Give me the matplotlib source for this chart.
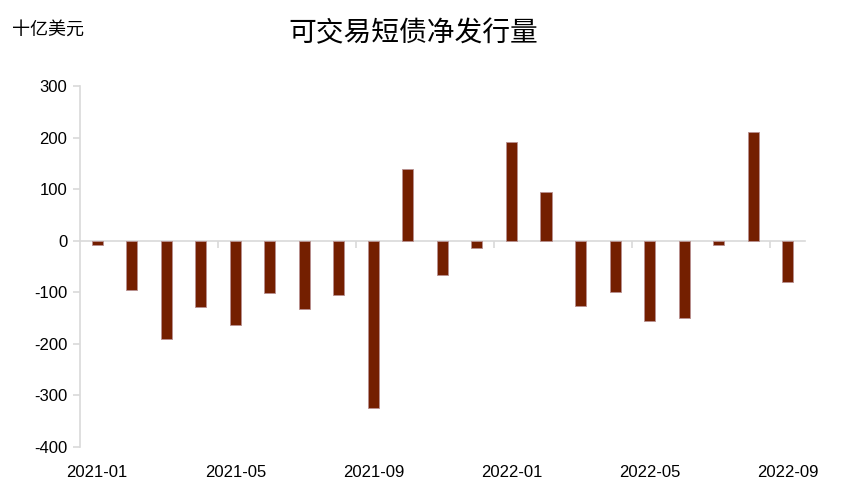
import matplotlib.pyplot as plt

plt.rcParams['font.family'] = ['Noto Sans CJK SC', 'DejaVu Sans']

# monthly net issuance of marketable bills, billion USD
months = ['2021-01', '2021-02', '2021-03', '2021-04', '2021-05', '2021-06', '2021-07',
          '2021-08', '2021-09', '2021-10', '2021-11', '2021-12', '2022-01', '2022-02',
          '2022-03', '2022-04', '2022-05', '2022-06', '2022-07', '2022-08', '2022-09']
net_issuance = [-8, -96, -190, -129, -163, -102, -133, -105, -325, 139, -66,
                -15, 192, 94, -126, -100, -155, -149, -8, 211, -80]
label_idx = [0, 4, 8, 12, 16, 20]
yticks = [-400, -300, -200, -100, 0, 100, 200, 300]

grey = '#d9d9d9'
num_font = ['Liberation Sans', 'DejaVu Sans']

fig = plt.figure(figsize=(8.41, 4.96), dpi=100)
ax = fig.add_axes([0.0951, 0.0988, 0.862, 0.7278])

x = list(range(len(months)))
ax.bar(x, net_issuance, width=0.32, color='#741f00', edgecolor='#b89090', linewidth=0.6, zorder=3)

ax.set_xlim(-0.5, len(months) - 0.5)
ax.set_ylim(-400, 300)
ax.set_yticks(yticks)
ax.set_yticklabels([str(v) for v in yticks], fontsize=12, family=num_font)

for s in ['top', 'right']:
    ax.spines[s].set_visible(False)
ax.spines['left'].set_color(grey)
ax.spines['left'].set_linewidth(1.2)
ax.spines['bottom'].set_position(('data', 0))
ax.spines['bottom'].set_color(grey)
ax.spines['bottom'].set_linewidth(1.2)
ax.tick_params(axis='y', color=grey, length=5, width=1.2, pad=4)

# tick marks on the zero line at category boundaries
ax.set_xticks([3.5, 7.5, 11.5, 15.5, 19.5])
ax.set_xticklabels([])
ax.tick_params(axis='x', color=grey, length=5, width=1.2, direction='out')

# date labels at the bottom of the plot
sec = ax.secondary_xaxis(0)
sec.set_xticks(label_idx)
sec.set_xticklabels([months[i] for i in label_idx], fontsize=12, family=num_font)
sec.tick_params(length=0, pad=13)
sec.spines['bottom'].set_visible(False)

fig.text(0.492, 0.932, '可交易短债净发行量', fontsize=20, ha='center', va='center')
fig.text(0.014, 0.94, '十亿美元', fontsize=13, ha='left', va='center')

fig.savefig('out.png', dpi=100)
